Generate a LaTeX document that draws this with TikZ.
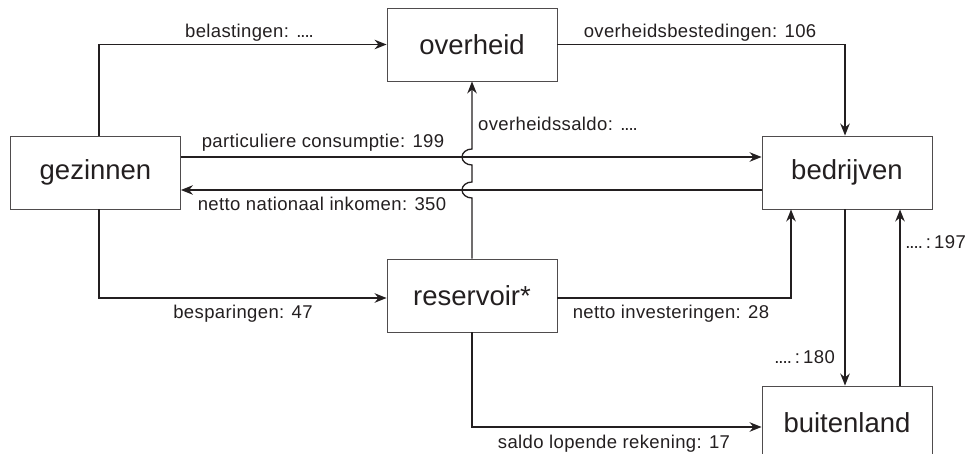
\documentclass[tikz,border=0pt]{standalone}
\usepackage{fontspec}
\setmainfont{Liberation Sans}
\newfontfamily\flowfont[LetterSpace=2]{Liberation Sans}
\usetikzlibrary{arrows.meta}

\definecolor{inkt}{HTML}{231F20}

\tikzset{
  sector/.style={draw=inkt!80, line width=0.9pt, minimum width=170pt, minimum height=73pt, inner sep=0pt, text=inkt, font=\fontsize{27.5}{30}\selectfont},
  flow/.style={draw=inkt, line width=1.3pt, -{Stealth[length=12pt,width=9.5pt]}},
  flowlabel/.style={inner sep=0pt, anchor=base, text=inkt, font=\flowfont\fontsize{18.5}{20}\selectfont},
}
% korte puntjes
\newcommand{\stip}{.\kern-1pt.\kern-1pt.\kern-1pt.}

\begin{document}
\begin{tikzpicture}[x=1pt,y=-1pt]
		\useasboundingbox (0,0) rectangle (968,454);
		% sectoren
		\node [sector] (gezinnen) at (95.5,172.5) {gezinnen};
		\node [sector] (overheid) at (472,44.5) {overheid};
		\node [sector] (bedrijven) at (847,172.5) {bedrijven};
		\node [sector] (reservoir) at (472,295.5) {reservoir*};
		\node [sector] (buitenland) at (847,422.5) {buitenland};
		% stromen
		\draw [flow] ([xshift=3.5pt]gezinnen.north) |- (overheid.west);
		\draw [flow] (overheid.east) -| ([xshift=-2pt]bedrijven.north);
		\draw [flow] ([yshift=15.5pt]gezinnen.east) -- ([yshift=15.5pt]bedrijven.west);
		\draw [flow] ([yshift=-17.5pt]bedrijven.west) -- ([yshift=-17.5pt]gezinnen.east);
		\draw [flow] (reservoir.north) -- (472,198) arc [start angle=90, end angle=270, x radius=10, y radius=8] -- (472,165) arc [start angle=90, end angle=270, x radius=10, y radius=8] -- (overheid.south);
		\draw [flow] ([xshift=3.5pt]gezinnen.south) |- ([yshift=-2.5pt]reservoir.west);
		\draw [flow] ([yshift=-2.5pt]reservoir.east) -| ([xshift=-56pt]bedrijven.south);
		\draw [flow] (reservoir.south) |- ([yshift=-4.5pt]buitenland.west);
		\draw [flow] ([xshift=-2pt]bedrijven.south) -- ([xshift=-2pt]buitenland.north);
		\draw [flow] ([xshift=53pt]buitenland.north) -- ([xshift=53pt]bedrijven.south);
		% labels
		\node [flowlabel] (belast) at (249.5,38) {belastingen: \stip};
		\node [flowlabel] (bested) at (700,38) {overheidsbestedingen: 106};
		\node [flowlabel] (saldo) at (558,131) {overheidssaldo: \stip};
		\node [flowlabel] (consump) at (323,148) {particuliere consumptie: 199};
		\node [flowlabel] (inkomen) at (322,211) {netto nationaal inkomen: 350};
		\node [flowlabel] (bespar) at (243,318) {besparingen: 47};
		\node [flowlabel] (invest) at (671,318) {netto investeringen: 28};
		\node [flowlabel] (lopend) at (614,448) {saldo lopende rekening: 17};
		\node [flowlabel, anchor=base east] (uitvoer) at (835,363) {\stip\,:\,180};
		\node [flowlabel, anchor=base east] (invoer) at (966,248) {\stip\,:\,197};
\end{tikzpicture}
\end{document}
